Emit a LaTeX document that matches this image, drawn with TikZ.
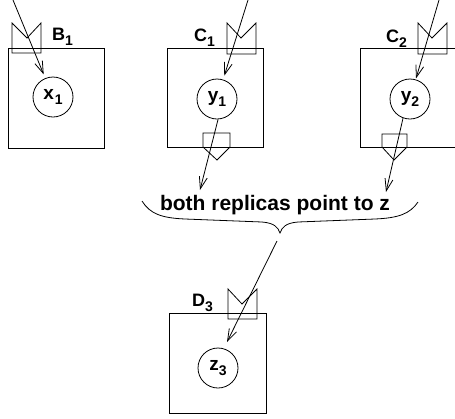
\documentclass[tikz,border=0pt]{standalone}
\usepackage{fontspec}
\setmainfont{Liberation Sans}
\usetikzlibrary{arrows.meta}
\newcommand{\sbs}[1]{\raisebox{-5pt}{\fontsize{14}{14}\selectfont #1}}
\begin{document}
\begin{tikzpicture}[x=1pt,y=-1pt,
  box/.style={draw, line width=0.8pt, minimum width=96pt, minimum height=100pt, anchor=north west, inner sep=0pt},
  var/.style={draw, circle, minimum size=40pt, inner sep=0pt, line width=0.8pt, font=\fontsize{19}{19}\selectfont\bfseries},
  flag/.style={draw, line width=0.8pt},
  lbl/.style={anchor=base west, inner sep=0pt, font=\fontsize{18}{18}\selectfont\bfseries},
  ptr/.style={-{Straight Barb[length=12pt,width=8pt]}, line width=0.8pt},
]
\useasboundingbox (0,0) rectangle (455,418);
% boxes
\node[box] (boxB) at (8,48) {};
\node[box, minimum width=96pt, minimum height=99pt] (boxC1) at (167,48) {};
\node[box, minimum width=100pt, minimum height=99pt] (boxC2) at (360,48) {};
\node[box, minimum width=97pt] (boxD) at (169,313) {};
% flags (top)
\draw[flag] (12,23) -- (27,38) -- (41,23) -- (41,53) -- (12,53) -- cycle;
\draw[flag] (227,23) -- (241,38) -- (256,23) -- (256,54) -- (227,54) -- cycle;
\draw[flag] (418,23) -- (432,38) -- (447,23) -- (447,54) -- (418,54) -- cycle;
\draw[flag] (228,289) -- (242,304) -- (257,289) -- (257,319) -- (228,319) -- cycle;
% flags (bottom)
\draw[flag] (203,133) -- (230,133) -- (230,147) -- (217,160) -- (203,147) -- cycle;
\draw[flag] (382,134) -- (407,134) -- (407,147) -- (394,160) -- (382,147) -- cycle;
% labels
\node[lbl] (lB) at (52,40) {B\sbs{1}};
\node[lbl] (lC1) at (194,41) {C\sbs{1}};
\node[lbl] (lC2) at (386,42) {C\sbs{2}};
\node[lbl] (lD) at (192,306) {D\sbs{3}};
% variables
\node[var] (x1) at (53,97) {x\kern1pt\sbs{1}};
\node[var] (y1) at (217,99) {y\sbs{1}};
\node[var] (y2) at (410,99) {y\sbs{2}};
\node[var] (z3) at (218,368) {z\sbs{3}};
% incoming pointers
\coordinate (inB) at (13,0);
\coordinate (inC1) at (248,0);
\coordinate (inC2) at (439,0);
\draw[ptr, shorten >=4pt] (inB) -- (x1);
\draw[ptr, shorten >=4pt] (inC1) -- (y1);
\draw[ptr, shorten >=1pt] (inC2) -- (y2);
% outgoing pointers
\coordinate (outC1) at (200,190);
\coordinate (outC2) at (386,192);
\draw[ptr] (y1.-87) -- (outC1);
\draw[ptr] (y2.-110) -- (outC2);
% brace and text
\node[inner sep=0pt, font=\fontsize{21}{21}\selectfont\bfseries] (txt) at (275,205) {both replicas point to z};
\draw[line width=0.8pt] (142,201) .. controls (150,214) and (162,218) .. (185,219)
  -- (262,222) .. controls (274,223) and (278,227) .. (280,233)
  .. controls (282,227) and (286,223) .. (298,222)
  -- (375,219) .. controls (398,218) and (410,214) .. (418,202);
\coordinate (bracetip) at (277,241);
\coordinate (tipD) at (227,342);
\draw[ptr] (bracetip) -- (tipD);
\end{tikzpicture}
\end{document}
